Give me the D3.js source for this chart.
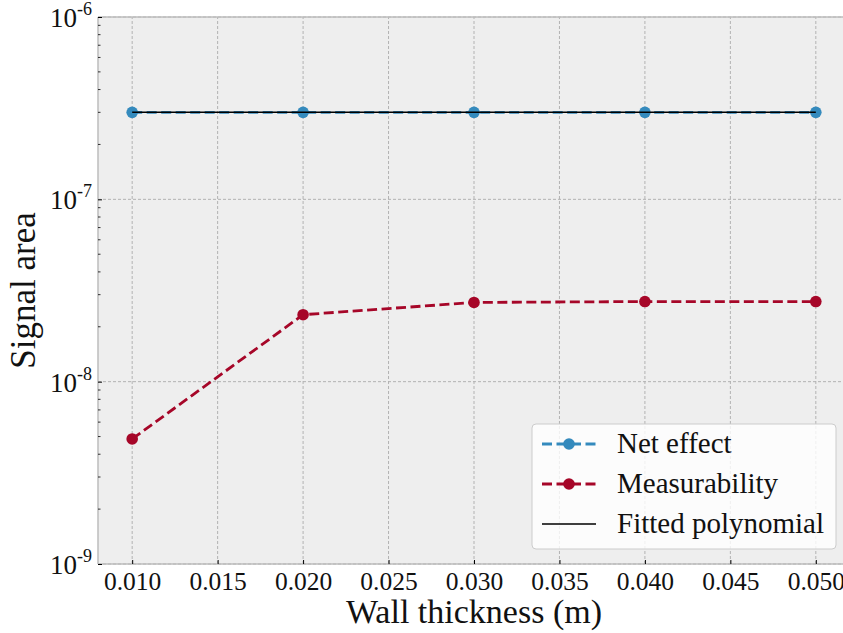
<!DOCTYPE html>
<html>
<head>
<meta charset="utf-8">
<script src="https://cdn.jsdelivr.net/npm/d3@7"></script>
<style>
  body { margin: 0; background: #fff; }
  svg { display: block; font-family: "Liberation Serif", serif; }
</style>
</head>
<body>
<svg id="chart"></svg>
<script>
// data
const thickness = [0.010, 0.020, 0.030, 0.040, 0.050];
const netEffect = [3.0e-7, 3.0e-7, 3.0e-7, 3.0e-7, 3.0e-7];
const measurability = [4.85e-9, 2.33e-8, 2.72e-8, 2.75e-8, 2.75e-8];
const fitted = [3.0e-7, 3.0e-7, 3.0e-7, 3.0e-7, 3.0e-7];
const xTicks = [0.010, 0.015, 0.020, 0.025, 0.030, 0.035, 0.040, 0.045, 0.050];
const yTicks = [1e-9, 1e-8, 1e-7, 1e-6];
const legendNames = ['Net effect', 'Measurability', 'Fitted polynomial'];

const width = 843, height = 633;
const margin = {left: 98, top: 17, right: -7, bottom: 69};

const svg = d3.select('#chart')
  .attr('width', width)
  .attr('height', height);

const x = d3.scaleLinear()
  .domain([0.008, 0.052])
  .range([margin.left, width - margin.right]);

const y = d3.scaleLog()
  .domain([1e-9, 1e-6])
  .range([height - margin.bottom, margin.top]);

// plot background
svg.append('rect')
  .attr('x', x.range()[0])
  .attr('y', y.range()[1])
  .attr('width', x.range()[1] - x.range()[0])
  .attr('height', y.range()[0] - y.range()[1])
  .attr('fill', '#eeeeee');

// grid
svg.append('g')
  .selectAll('line')
  .data(xTicks)
  .join('line')
  .attr('x1', d => x(d)).attr('x2', d => x(d))
  .attr('y1', y.range()[0]).attr('y2', y.range()[1])
  .attr('stroke', '#b2b2b2')
  .attr('stroke-width', 1)
  .attr('stroke-dasharray', '3,2');

svg.append('g')
  .selectAll('line')
  .data(yTicks)
  .join('line')
  .attr('x1', x.range()[0]).attr('x2', x.range()[1])
  .attr('y1', d => y(d)).attr('y2', d => y(d))
  .attr('stroke', '#b2b2b2')
  .attr('stroke-width', 1)
  .attr('stroke-dasharray', '3,2');

// spines
const spine = svg.append('g').attr('fill', 'none').attr('stroke', '#bcbcbc').attr('stroke-width', 1.5);
spine.append('line').attr('x1', x.range()[0]).attr('x2', x.range()[0]).attr('y1', y.range()[0]).attr('y2', y.range()[1]);
spine.append('line').attr('x1', x.range()[0]).attr('x2', x.range()[1]).attr('y1', y.range()[0]).attr('y2', y.range()[0]);
spine.append('line').attr('x1', x.range()[0]).attr('x2', x.range()[1]).attr('y1', y.range()[1]).attr('y2', y.range()[1]);

// x axis, ticks inward
const xAxis = svg.append('g')
  .attr('transform', `translate(0,${y.range()[0]})`)
  .call(d3.axisBottom(x).tickValues(xTicks).tickFormat(d3.format('.3f')).tickSizeInner(-4).tickSizeOuter(0));
xAxis.select('.domain').remove();
xAxis.attr('font-size', null).attr('font-family', null);
xAxis.selectAll('.tick line').attr('stroke', '#000').attr('stroke-width', 1);
xAxis.selectAll('.tick text')
  .attr('y', 26)
  .attr('dy', null)
  .style('font-size', '25.5px')
  .style('font-family', '"Liberation Serif", serif')
  .attr('fill', '#111');

// y axis, ticks inward
const minorTicks = [];
for (let e = -9; e < -6; e++) {
  for (let m = 2; m < 10; m++) minorTicks.push(m * Math.pow(10, e));
}
svg.append('g')
  .selectAll('line')
  .data(minorTicks)
  .join('line')
  .attr('x1', x.range()[0]).attr('x2', x.range()[0] + 2.5)
  .attr('y1', d => y(d)).attr('y2', d => y(d))
  .attr('stroke', '#000').attr('stroke-width', 0.8);

const yAxis = svg.append('g')
  .attr('transform', `translate(${x.range()[0]},0)`)
  .call(d3.axisLeft(y).tickValues(yTicks).tickFormat('').tickSizeInner(-4).tickSizeOuter(0));
yAxis.select('.domain').remove();
yAxis.selectAll('.tick line').attr('stroke', '#000').attr('stroke-width', 1);

const yLab = svg.append('g')
  .selectAll('text')
  .data(yTicks)
  .join('text')
  .attr('x', x.range()[0] - 6)
  .attr('y', d => y(d) + 10)
  .attr('text-anchor', 'end')
  .attr('font-size', 27)
  .attr('fill', '#111');
yLab.append('tspan').text('10');
yLab.append('tspan')
  .attr('dy', -12)
  .attr('font-size', 18)
  .text(d => Math.round(Math.log10(d)));

// axis labels
svg.append('text')
  .attr('x', 474)
  .attr('y', 623)
  .attr('text-anchor', 'middle')
  .attr('font-size', 34)
  .attr('fill', '#111')
  .text('Wall thickness (m)');

svg.append('text')
  .attr('transform', `translate(35,${(y.range()[0] + y.range()[1]) / 2}) rotate(-90)`)
  .attr('text-anchor', 'middle')
  .attr('font-size', 35)
  .attr('fill', '#111')
  .text('Signal area');

// series
const line = d3.line().x(d => x(d[0])).y(d => y(d[1]));
const series = [
  {name: legendNames[0], vals: netEffect, color: '#348ABD', dash: '10,4.5', width: 2.8, marker: true},
  {name: legendNames[1], vals: measurability, color: '#A60628', dash: '10,4.5', width: 2.8, marker: true},
  {name: legendNames[2], vals: fitted, color: '#000000', dash: null, width: 1.5, marker: false}
];

const plot = svg.append('g');
series.forEach(s => {
  const pts = thickness.map((t, i) => [t, s.vals[i]]);
  plot.append('path')
    .attr('d', line(pts))
    .attr('fill', 'none')
    .attr('stroke', s.color)
    .attr('stroke-width', s.width)
    .attr('stroke-dasharray', s.dash);
  if (s.marker) {
    plot.append('g')
      .selectAll('circle')
      .data(pts)
      .join('circle')
      .attr('cx', d => x(d[0]))
      .attr('cy', d => y(d[1]))
      .attr('r', 5.8)
      .attr('fill', s.color);
  }
});

// legend
const lg = svg.append('g').attr('transform', 'translate(532,424)');
lg.append('rect')
  .attr('width', 304).attr('height', 125)
  .attr('rx', 4)
  .attr('fill', '#ffffff').attr('fill-opacity', 0.8)
  .attr('stroke', '#cccccc').attr('stroke-width', 1);
series.forEach((s, i) => {
  const cy = 20 + i * 40;
  lg.append('line')
    .attr('x1', 10).attr('x2', 64)
    .attr('y1', cy).attr('y2', cy)
    .attr('stroke', s.color)
    .attr('stroke-width', s.width)
    .attr('stroke-dasharray', s.dash);
  if (s.marker) {
    lg.append('circle').attr('cx', 37).attr('cy', cy).attr('r', 5.8).attr('fill', s.color);
  }
  lg.append('text')
    .attr('x', 85).attr('y', cy + 9)
    .attr('font-size', 29)
    .attr('fill', '#111')
    .text(s.name);
});
</script>
</body>
</html>
